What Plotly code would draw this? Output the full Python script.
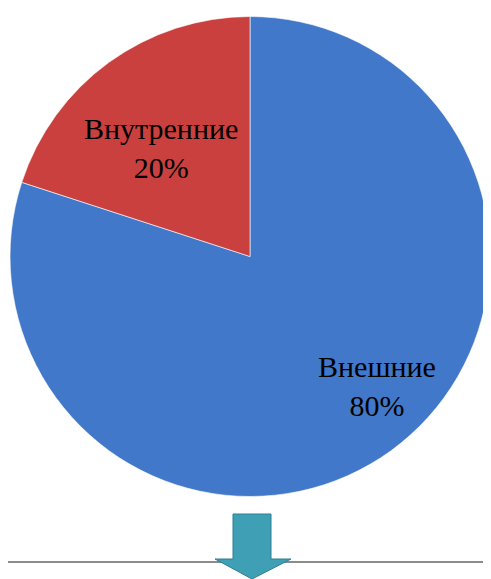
import plotly.graph_objects as go

labels = ["Внешние", "Внутренние"]
values = [80, 20]
colors = ["#4278c9", "#c9403e"]

W, H = 491, 579
OFF = 8  # default page margin of the html body

fig = go.Figure()

def px(x):
    return (x - OFF) / W

def py(y):
    return 1 - (y - OFF) / H

fig.add_trace(go.Pie(
    labels=labels,
    values=values,
    sort=False,
    direction="clockwise",
    rotation=0,
    marker=dict(colors=colors, line=dict(color="rgba(255,255,255,0.6)", width=1)),
    textinfo="none",
    showlegend=False,
    hoverinfo="skip",
    domain=dict(x=[px(10), px(490)], y=[py(497), py(16)]),
))

# slice labels (text built from the data)
total = sum(values)
label_pos = [(377, 386), (161, 148)]
for lab, val, (lx, ly) in zip(labels, values, label_pos):
    fig.add_annotation(
        x=px(lx), y=py(ly), xref="paper", yref="paper",
        xanchor="center", yanchor="middle",
        text=f"{lab}<br>{round(100 * val / total)}%",
        showarrow=False, align="center",
        font=dict(family="Liberation Serif", size=30, color="#000000"),
    )

# baseline
fig.add_shape(type="line", xref="paper", yref="paper",
              x0=0, x1=1, y0=py(562), y1=py(562),
              line=dict(color="#8c8c8c", width=2))

# arrow
arrow = (f"M {px(233)} {py(514)} L {px(271)} {py(514)} L {px(271)} {py(559)} "
         f"L {px(291)} {py(559)} L {px(252)} {py(579)} L {px(215)} {py(559)} "
         f"L {px(233)} {py(559)} Z")
fig.add_shape(type="path", xref="paper", yref="paper", path=arrow,
              fillcolor="#3f9fb5", line=dict(color="#2d7f93", width=1))

fig.update_layout(
    width=W, height=H,
    margin=dict(l=0, r=0, t=0, b=0),
    paper_bgcolor="white",
    plot_bgcolor="white",
)

fig.write_html("out.html")
